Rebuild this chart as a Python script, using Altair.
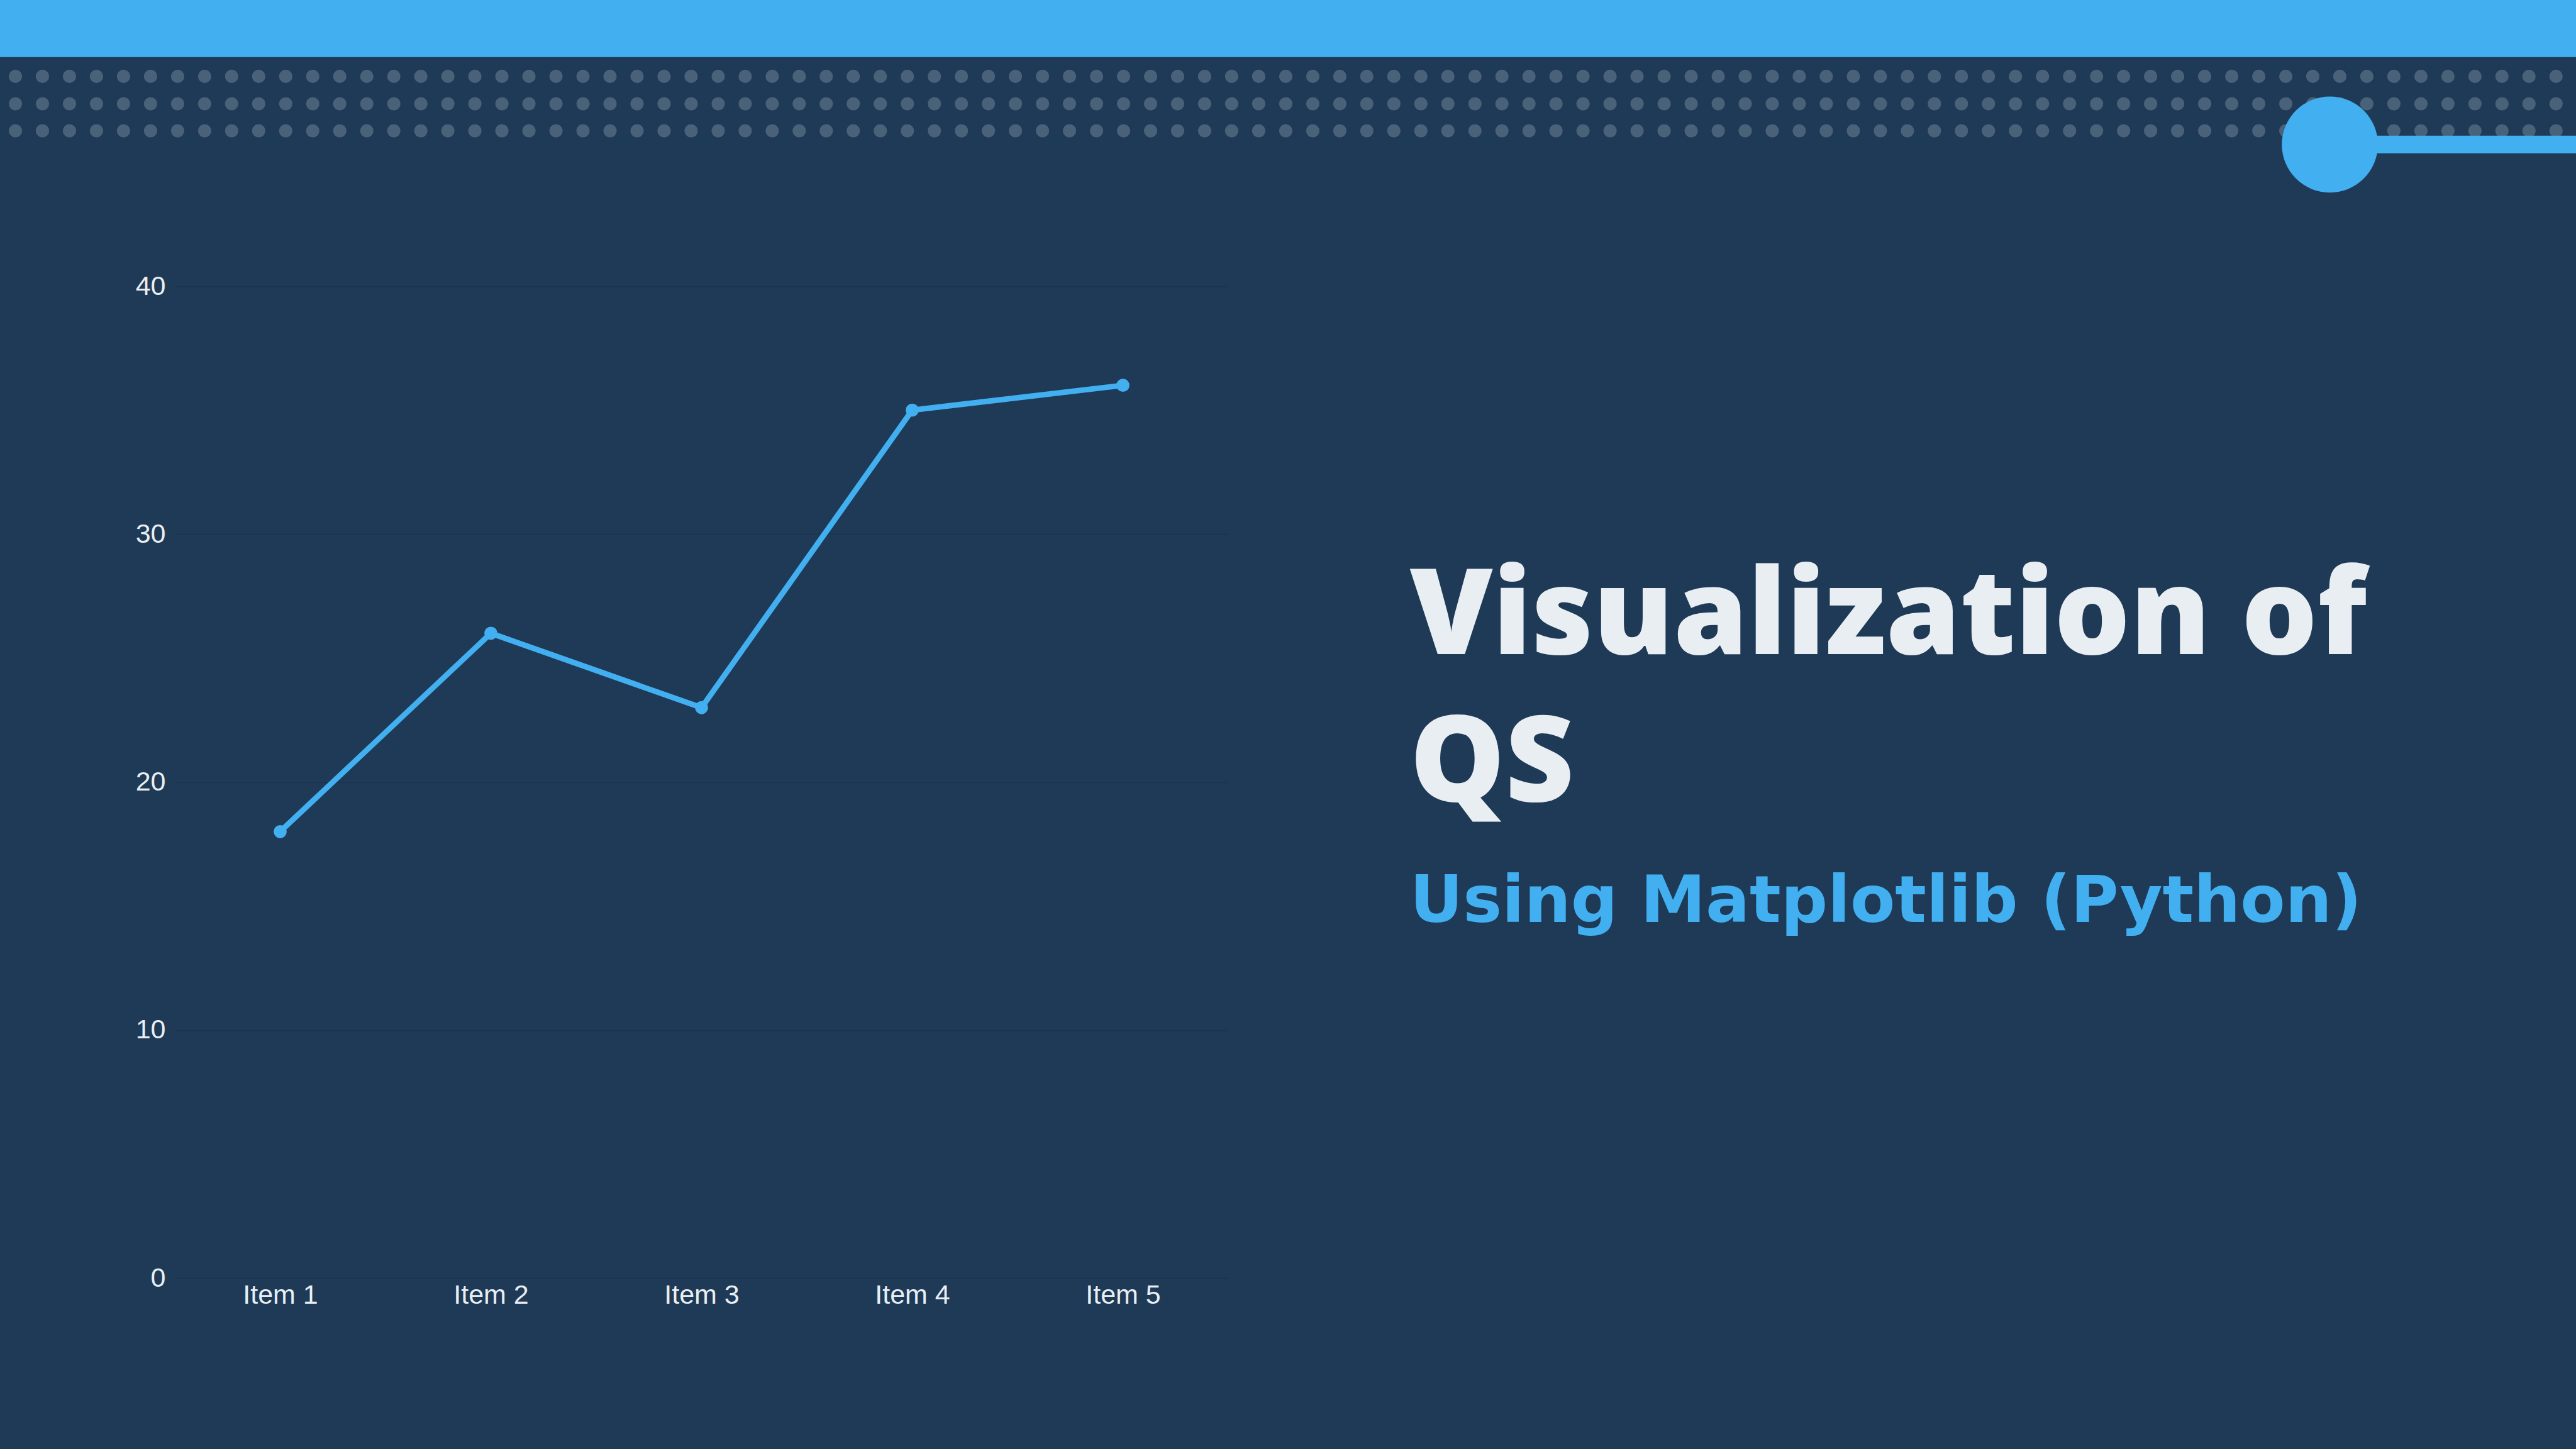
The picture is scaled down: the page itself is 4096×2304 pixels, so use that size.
import altair as alt
import pandas as pd

# ---- data ----
items = ["Item 1", "Item 2", "Item 3", "Item 4", "Item 5"]
values = [18, 26, 23, 35, 36]
y_ticks = [0, 10, 20, 30, 40]
title_lines = ["Visualization of", "QS"]
subtitle = "Using Matplotlib (Python)"

# ---- style ----
BG = "#1e3a56"
BLUE = "#42aff1"
DOT = "#4a6279"
GRID = "#1a3450"
TXT = "#e9eef3"

W, H = 4096, 2304
S = 0.682
L = 278          # plot left
T = 455          # plot top
PW = 1675        # plot width
PH = 1577        # plot height


def rx(x):
    return x - L


def ry(y):
    return y - T


one = pd.DataFrame({"a": [0]})

band = alt.Chart(one).mark_rect(color=BLUE).encode(
    x=alt.value(rx(0)), x2=alt.value(rx(W + 10)),
    y=alt.value(ry(-5)), y2=alt.value(ry(133 * S)),
)

dot_rows = []
for yy in (178, 242, 305):
    dot_rows.append(
        alt.Chart(one).mark_rule(
            color=DOT, strokeWidth=31 * S, strokeCap="round",
            strokeDash=[0.01, 63 * S],
        ).encode(
            x=alt.value(rx(36 * S)), x2=alt.value(rx(W + 30)),
            y=alt.value(ry(yy * S)),
        )
    )

connector = alt.Chart(one).mark_rule(color=BLUE, strokeWidth=41 * S).encode(
    x=alt.value(rx(5428 * S)), x2=alt.value(rx(W + 10)),
    y=alt.value(ry(337 * S)),
)

big_circle = alt.Chart(one).mark_point(
    shape="circle", filled=True, color=BLUE, opacity=1, size=(224 * S) ** 2
).encode(
    x=alt.value(rx(5432 * S)), y=alt.value(ry(337 * S)),
)

df = pd.DataFrame({"item": items, "value": values})

xenc = alt.X("item:N", sort=items, title=None,
             scale=alt.Scale(type="point", padding=0.5),
             axis=alt.Axis(labelAngle=0, ticks=False, domain=False, grid=False,
                           labelFont="Liberation Sans", labelFontSize=43,
                           labelColor=TXT, labelPadding=6))
yenc = alt.Y("value:Q", title=None,
             scale=alt.Scale(domain=[0, 40], nice=False),
             axis=alt.Axis(values=y_ticks, ticks=False, domain=False, grid=True,
                           gridColor=GRID, gridWidth=1.5,
                           labelFont="Liberation Sans", labelFontSize=43,
                           labelColor=TXT, labelPadding=15))

line = alt.Chart(df).mark_line(color=BLUE, strokeWidth=13 * S).encode(x=xenc, y=yenc)
pts = alt.Chart(df).mark_point(shape="circle", filled=True, color=BLUE, opacity=1,
                               size=(30.5 * S) ** 2).encode(x=xenc, y=yenc)
main = alt.layer(line, pts)

tx = rx(3287 * S)
title1 = alt.Chart(pd.DataFrame({"t": [title_lines[0]]})).mark_text(
    align="left", baseline="alphabetic", font="Open Sans", fontWeight=800,
    fontSize=190, color=TXT,
).encode(text="t:N", x=alt.value(tx), y=alt.value(ry(1525 * S)))
title2 = alt.Chart(pd.DataFrame({"t": [title_lines[1]]})).mark_text(
    align="left", baseline="alphabetic", font="Open Sans", fontWeight=800,
    fontSize=190, color=TXT,
).encode(text="t:N", x=alt.value(tx), y=alt.value(ry(1868 * S)))
sub = alt.Chart(pd.DataFrame({"t": [subtitle]})).mark_text(
    align="left", baseline="alphabetic", font="DejaVu Sans", fontWeight="bold",
    fontSize=104, color=BLUE,
).encode(text="t:N", x=alt.value(tx), y=alt.value(ry(2150 * S)))

chart = alt.layer(band, *dot_rows, connector, big_circle, main, title1, title2, sub).properties(
    width=PW, height=PH,
    autosize=alt.AutoSizeParams(type="none"),
    padding={"left": L, "top": T, "right": W - L - PW, "bottom": H - T - PH},
    background=BG,
).configure_view(stroke=None)

chart.save("out.html", embed_options={"renderer": "svg", "actions": False})
